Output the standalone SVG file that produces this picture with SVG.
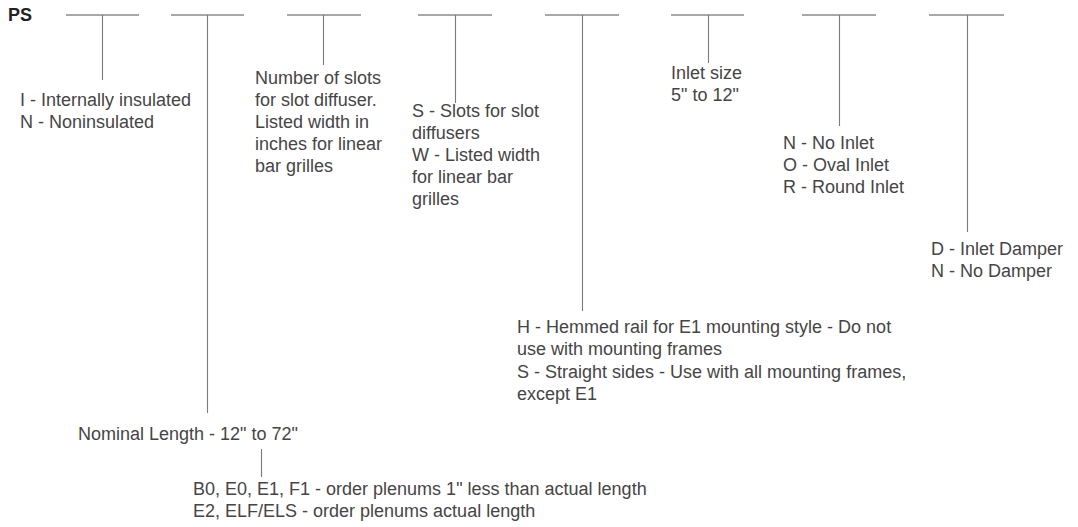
<svg xmlns="http://www.w3.org/2000/svg" width="1078" height="527" viewBox="0 0 1078 527">
<style>
text{font-family:"Liberation Sans",Arial,sans-serif;font-size:18px;fill:#454545}
.ps{font-weight:bold;font-size:18px;fill:#222}
.h{stroke:#a8a8a8;stroke-width:1.8;fill:none}
.v{stroke:#7a7a7a;stroke-width:1.1;fill:none}
</style>
<rect width="1078" height="527" fill="#fff"/>
<g id="title"><text class="ps" x="8" y="21">PS</text></g>
<g id="connectors">
<path class="h" d="M66 15H139M171 15H244M287 15H361M418 15H492M545 15H619M671 15H744M802 15H876M929 15H1004"/>
<path class="v" d="M102.5 15V80M207.5 15V413M323.5 15V65M455.5 15V103M582.5 15V311M708.5 15V63M839.5 15V126M967.5 15V232M261.5 449V477"/>
</g>
<g id="insulation"><text x="20" y="106">I - Internally insulated</text><text x="20" y="128">N - Noninsulated</text></g>
<g id="slots"><text x="255" y="84">Number of slots</text><text x="255" y="106">for slot diffuser.</text><text x="255" y="128">Listed width in</text><text x="255" y="150">inches for linear</text><text x="255" y="172">bar grilles</text></g>
<g id="slottype"><text x="412" y="117">S - Slots for slot</text><text x="412" y="139">diffusers</text><text x="412" y="161">W - Listed width</text><text x="412" y="183">for linear bar</text><text x="412" y="205">grilles</text></g>
<g id="rail"><text x="517" y="333">H - Hemmed rail for E1 mounting style - Do not</text><text x="517" y="355">use with mounting frames</text><text x="517" y="378">S - Straight sides - Use with all mounting frames,</text><text x="517" y="400">except E1</text></g>
<g id="inletsize"><text x="671" y="79">Inlet size</text><text x="671" y="101">5" to 12"</text></g>
<g id="inlet"><text x="783" y="149">N - No Inlet</text><text x="783" y="171">O - Oval Inlet</text><text x="783" y="193">R - Round Inlet</text></g>
<g id="damper"><text x="931" y="255">D - Inlet Damper</text><text x="931" y="277">N - No Damper</text></g>
<g id="length"><text x="78" y="440">Nominal Length - 12" to 72"</text></g>
<g id="plenum"><text x="193" y="495">B0, E0, E1, F1 - order plenums 1" less than actual length</text><text x="193" y="517">E2, ELF/ELS - order plenums actual length</text></g>
</svg>
